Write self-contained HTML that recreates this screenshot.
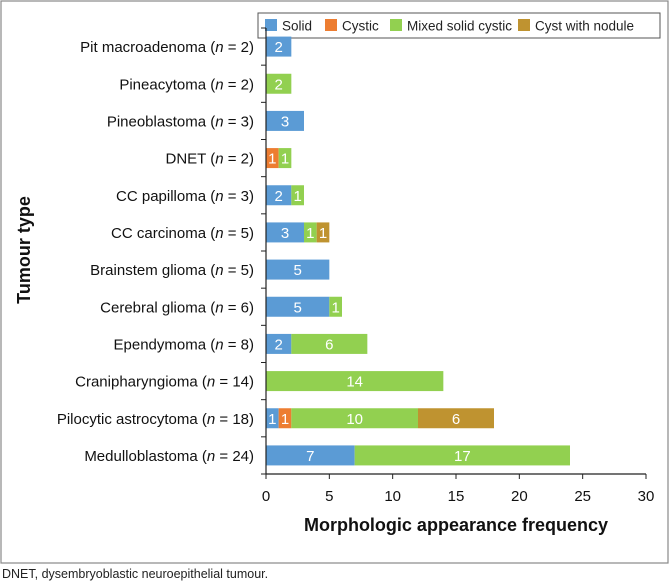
<!DOCTYPE html>
<html><head><meta charset="utf-8">
<style>
html,body{margin:0;padding:0;background:#fff;width:670px;height:583px;overflow:hidden;font-family:"Liberation Sans",sans-serif;}
</style></head>
<body>
<svg id="chart" width="670" height="583" xmlns="http://www.w3.org/2000/svg" font-family="Liberation Sans, sans-serif">
<rect x="1" y="1" width="667" height="562" fill="#fff" stroke="#888" stroke-width="1.2"/>
<g>
<rect x="258" y="13" width="402" height="25" fill="#fff" stroke="#555" stroke-width="1"/>
<rect x="265" y="19" width="12" height="12" fill="#5B9BD5"/>
<text x="282" y="30.5" font-size="13.5" fill="#222">Solid</text>
<rect x="325" y="19" width="12" height="12" fill="#ED7D31"/>
<text x="342" y="30.5" font-size="13.5" fill="#222">Cystic</text>
<rect x="390" y="19" width="12" height="12" fill="#92D050"/>
<text x="407" y="30.5" font-size="13.5" fill="#222">Mixed solid cystic</text>
<rect x="518" y="19" width="12" height="12" fill="#BF9330"/>
<text x="535" y="30.5" font-size="13.5" fill="#222">Cyst with nodule</text>
</g>
<text transform="translate(30,250) rotate(-90)" text-anchor="middle" font-size="18" font-weight="bold" fill="#111">Tumour type</text>
<text x="456" y="531" text-anchor="middle" font-size="18" font-weight="bold" fill="#111">Morphologic appearance frequency</text>
<text x="2" y="578" font-size="12.5" fill="#222">DNET, dysembryoblastic neuroepithelial tumour.</text>
<g id="plot"></g>
</svg>
<script>
const categories = ["Pit macroadenoma","Pineacytoma","Pineoblastoma","DNET","CC papilloma","CC carcinoma","Brainstem glioma","Cerebral glioma","Ependymoma","Cranipharyngioma","Pilocytic astrocytoma","Medulloblastoma"];
const counts = [2,2,3,2,3,5,5,6,8,14,18,24];
const solid = [2,0,3,0,2,3,5,5,2,0,1,7];
const cystic = [0,0,0,1,0,0,0,0,0,0,1,0];
const mixed = [0,2,0,1,1,1,0,1,6,14,10,17];
const nodule = [0,0,0,0,0,1,0,0,0,0,6,0];
const xTicks = [0,5,10,15,20,25,30];
const seriesNames = ["solid","cystic","mixed","nodule"];
const seriesColors = ["#5B9BD5","#ED7D31","#92D050","#BF9330"];

const NS="http://www.w3.org/2000/svg";
const g=document.getElementById("plot");
const X0=266,X1=646,XMAX=30,YTOP=28,YBOT=474;
const band=(YBOT-YTOP)/categories.length;
function xs(v){return X0+(X1-X0)*v/XMAX;}
function yc(i){return YTOP+band*(i+0.5);}
function mk(tag,attrs){const e=document.createElementNS(NS,tag);for(const k in attrs)e.setAttribute(k,attrs[k]);g.appendChild(e);return e;}
const series=[solid,cystic,mixed,nodule];
categories.forEach((c,i)=>{
  let acc=0;
  series.forEach((s,j)=>{
    const v=s[i]; if(!v) return;
    const r=mk("rect",{x:xs(acc),y:yc(i)-10,width:xs(acc+v)-xs(acc),height:20,fill:seriesColors[j]});
    
    
    const t=mk("text",{x:(xs(acc)+xs(acc+v))/2,y:yc(i)+5.5,"text-anchor":"middle","font-size":"15",fill:"#fff"});
    t.textContent=v;
    
    
    acc+=v;
  });
  const lab=mk("text",{x:254,y:yc(i)+5.5,"text-anchor":"end","font-size":"15",fill:"#111"});
  lab.innerHTML=c+' (<tspan font-style="italic">n</tspan> = '+counts[i]+')';
  
  
});
for(let i=0;i<=categories.length;i++){
  const tk=mk("line",{x1:X0-5,x2:X0,y1:YTOP+band*i,y2:YTOP+band*i,stroke:"#222","stroke-width":1});
  
  
}
const ya=mk("line",{x1:X0,x2:X0,y1:YTOP,y2:YBOT,stroke:"#222","stroke-width":1.2});


const xa=mk("line",{x1:X0,x2:X1,y1:YBOT,y2:YBOT,stroke:"#222","stroke-width":1.2});


xTicks.forEach(v=>{
  const l=mk("line",{x1:xs(v),x2:xs(v),y1:YBOT,y2:YBOT+5,stroke:"#222","stroke-width":1});
  
  
  const t=mk("text",{x:xs(v),y:YBOT+27,"text-anchor":"middle","font-size":"15",fill:"#111"});
  t.textContent=v;
  
  
});
</script>
</body></html>
